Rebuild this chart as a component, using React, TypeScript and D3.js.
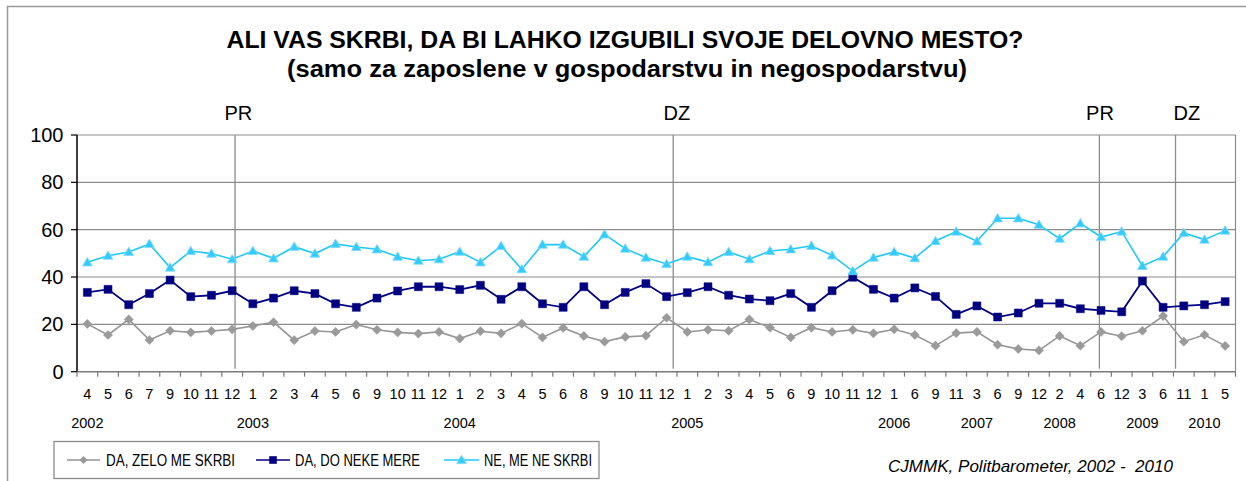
import React from 'react';
import * as d3 from 'd3';

const months = [
  '4','5','6','7','9','10','11','12',
  '1','2','3','4','5','6','9','10','11','12',
  '1','2','3','4','5','6','8','9','10','11','12',
  '1','2','3','4','5','6','9','10','11','12',
  '1','6','9','11',
  '3','6','9','12',
  '2','4','6','12',
  '3','6','11',
  '1','5',
];

const yearLabels = ['2002','2003','2004','2005','2006','2007','2008','2009','2010'];
const yearStartIndex = [0, 8, 18, 29, 39, 43, 47, 51, 54];

const zelo = [
  20.2,15.5,22.1,13.4,17.3,16.6,17.2,17.9,
  19.3,20.9,13.3,17.2,16.8,19.9,17.7,16.6,16.1,16.8,
  14.0,17.1,16.2,20.3,14.5,18.5,15.1,12.7,14.7,15.2,22.8,
  16.8,17.7,17.3,22.1,18.6,14.5,18.6,16.8,17.7,16.2,
  17.9,15.5,11.0,16.3,
  16.8,11.4,9.6,9.0,
  15.1,11.0,16.8,15.0,
  17.3,23.5,12.7,
  15.6,10.9,
];

const doNeke = [
  33.5,34.8,28.3,33.0,38.7,31.7,32.3,34.2,
  28.7,31.1,34.2,33.0,28.7,27.2,31.1,34.1,35.9,35.9,
  34.7,36.5,30.6,35.9,28.7,27.2,35.9,28.3,33.5,37.2,31.7,
  33.4,35.9,32.3,30.7,30.0,33.0,27.2,34.2,39.9,34.8,
  31.1,35.4,31.8,24.2,
  27.8,23.1,24.8,28.9,
  28.9,26.6,25.9,25.3,
  38.3,27.2,27.8,
  28.3,29.6,
];

const neSkrbi = [
  46.2,49.0,50.6,54.0,44.0,51.0,49.9,47.5,
  51.0,47.9,52.8,49.9,54.0,52.7,51.7,48.6,46.9,47.5,
  50.7,46.2,53.1,43.3,53.7,53.7,48.6,58.0,52.0,48.2,45.5,
  48.6,46.3,50.6,47.5,51.0,51.7,53.2,49.1,42.5,48.2,
  50.6,48.0,55.2,59.2,
  55.1,64.8,64.8,62.1,
  56.2,62.7,56.9,59.2,
  44.7,48.6,58.6,
  55.8,59.6,
];

const seriesNames = ['DA, ZELO ME SKRBI', 'DA, DO NEKE MERE', 'NE, ME NE SKRBI'];
const yTicks = [0, 20, 40, 60, 80, 100];

// event annotations (label, position on category axis in category units)
const eventLabels = ['PR', 'DZ', 'PR', 'DZ'];
const eventLinePos = [7.64, 28.82, 49.42, 53.1];
const eventLabelPos = [7.8, 29.0, 49.45, 53.65];

const title1 = 'ALI VAS SKRBI, DA BI LAHKO IZGUBILI SVOJE DELOVNO MESTO?';
const title2 = '(samo za zaposlene v gospodarstvu in negospodarstvu)';
const source = 'CJMMK, Politbarometer, 2002 -  2010';

const FONT = '"Liberation Sans", Arial, Helvetica, sans-serif';

export default function App() {
  const W = 1246, H = 481;
  const left = 77, right = 1235.5, top = 135, bottom = 371.7;
  const n = months.length;
  const xu = d3.scaleLinear().domain([0, n]).range([left, right]);
  const x = (i: number) => xu(i + 0.5);
  const y = d3.scaleLinear().domain([0, 100]).range([bottom, top]);

  const line = d3.line<number>().x((_, i) => x(i)).y((d) => y(d));

  const diamond = (cx: number, cy: number, r = 4.6) =>
    `M${cx},${cy - r}L${cx + r},${cy}L${cx},${cy + r}L${cx - r},${cy}Z`;
  const square = (cx: number, cy: number, r = 4) =>
    `M${cx - r},${cy - r}h${2 * r}v${2 * r}h${-2 * r}Z`;
  const tri = (cx: number, cy: number) =>
    `M${cx},${cy - 4.8}L${cx + 4.8},${cy + 3.6}L${cx - 4.8},${cy + 3.6}Z`;

  const grayLine = '#969696', grayFill = '#9a9a9a';
  const navy = '#000080';
  const cyanLine = '#1ec8fa', cyanFill = '#33ccff', cyanEdge = '#7fd8ff';

  const legendY = 460;
  const legendItems = [
    { name: seriesNames[0], x1: 67, x2: 100, tx: 106, tw: 129, kind: 'd' },
    { name: seriesNames[1], x1: 256, x2: 290, tx: 295, tw: 125, kind: 's' },
    { name: seriesNames[2], x1: 444, x2: 479, tx: 484, tw: 108, kind: 't' },
  ];

  return (
    <svg width={W} height={H} style={{ position: 'absolute', left: 0, top: 0, background: '#fff' }} fontFamily={FONT}>
      <rect x={0} y={0} width={W} height={H} fill="#fff" />
      <rect x={7.5} y={6.5} width={W + 10} height={H + 10} fill="none" stroke="#9a9a9a" strokeWidth={1.5} />

      <text x={625} y={47.7} textAnchor="middle" fontSize={23} fontWeight="bold" textLength={797} lengthAdjust="spacingAndGlyphs">{title1}</text>
      <text x={627} y={77} textAnchor="middle" fontSize={23} fontWeight="bold" textLength={680} lengthAdjust="spacingAndGlyphs">{title2}</text>

      {/* gridlines */}
      {yTicks.filter((t) => t > 0).map((t) => (
        <line key={t} x1={left} x2={right} y1={y(t)} y2={y(t)} stroke="#8c8c8c" strokeWidth={1.2} />
      ))}
      <line x1={right} x2={right} y1={top} y2={bottom} stroke="#8c8c8c" strokeWidth={1.2} />

      {/* event lines */}
      {eventLinePos.map((p, i) => (
        <line key={'ev' + i} x1={xu(p)} x2={xu(p)} y1={top} y2={bottom - 3} stroke="#8c8c8c" strokeWidth={1.3} />
      ))}
      {eventLabels.map((l, i) => (
        <text key={'evl' + i} x={xu(eventLabelPos[i])} y={120} textAnchor="middle" fontSize={20}>{l}</text>
      ))}

      {/* y axis */}
      <line x1={left} x2={left} y1={top} y2={bottom} stroke="#000" strokeWidth={1.5} />
      {yTicks.map((t) => (
        <g key={'yt' + t}>
          <line x1={left - 6} x2={left} y1={y(t)} y2={y(t)} stroke="#000" strokeWidth={1.2} />
          <text x={63.5} y={y(t) + 7} textAnchor="end" fontSize={20}>{t}</text>
        </g>
      ))}

      {/* x axis */}
      <line x1={left} x2={right} y1={bottom} y2={bottom} stroke="#7a7a7a" strokeWidth={1.5} />
      {d3.range(n + 1).map((i) => (
        <line key={'xt' + i} x1={xu(i)} x2={xu(i)} y1={bottom} y2={bottom + 5} stroke="#7a7a7a" strokeWidth={1.2} />
      ))}
      {months.map((m, i) => (
        <text key={'m' + i} x={x(i)} y={399} textAnchor="middle" fontSize={14.5}>{m}</text>
      ))}
      {yearLabels.map((yl, i) => (
        <text key={'y' + yl} x={x(yearStartIndex[i])} y={428} textAnchor="middle" fontSize={14.5}>{yl}</text>
      ))}

      {/* series */}
      <path d={line(zelo) || ''} fill="none" stroke={grayLine} strokeWidth={1.6} />
      <path d={line(doNeke) || ''} fill="none" stroke={navy} strokeWidth={1.8} />
      <path d={line(neSkrbi) || ''} fill="none" stroke={cyanLine} strokeWidth={1.6} />
      {zelo.map((v, i) => (
        <path key={'z' + i} d={diamond(x(i), y(v))} fill={grayFill} stroke={grayFill} strokeWidth={0.5} />
      ))}
      {doNeke.map((v, i) => (
        <path key={'d' + i} d={square(x(i), y(v))} fill={navy} stroke={navy} strokeWidth={0.5} />
      ))}
      {neSkrbi.map((v, i) => (
        <path key={'n' + i} d={tri(x(i), y(v))} fill={cyanFill} stroke={cyanEdge} strokeWidth={0.8} />
      ))}

      {/* legend */}
      <rect x={54} y={441.5} width={545} height={37} fill="#fff" stroke="#8c8c8c" strokeWidth={1.3} />
      {legendItems.map((it, i) => {
        const cx = (it.x1 + it.x2) / 2;
        const color = i === 0 ? grayLine : i === 1 ? navy : cyanLine;
        return (
          <g key={'lg' + i}>
            <line x1={it.x1} x2={it.x2} y1={legendY} y2={legendY} stroke={color} strokeWidth={1.6} />
            {it.kind === 'd' && <path d={diamond(cx, legendY, 4)} fill={grayFill} />}
            {it.kind === 's' && <path d={square(cx, legendY, 3.8)} fill={navy} />}
            {it.kind === 't' && <path d={tri(cx, legendY)} fill={cyanFill} stroke={cyanEdge} strokeWidth={0.8} />}
            <text x={it.tx} y={466} fontSize={16} textLength={it.tw} lengthAdjust="spacingAndGlyphs">{it.name}</text>
          </g>
        );
      })}

      <text x={888} y={471.5} fontSize={17} fontStyle="italic" style={{ whiteSpace: 'pre' }} textLength={285} lengthAdjust="spacingAndGlyphs">{source}</text>
    </svg>
  );
}
